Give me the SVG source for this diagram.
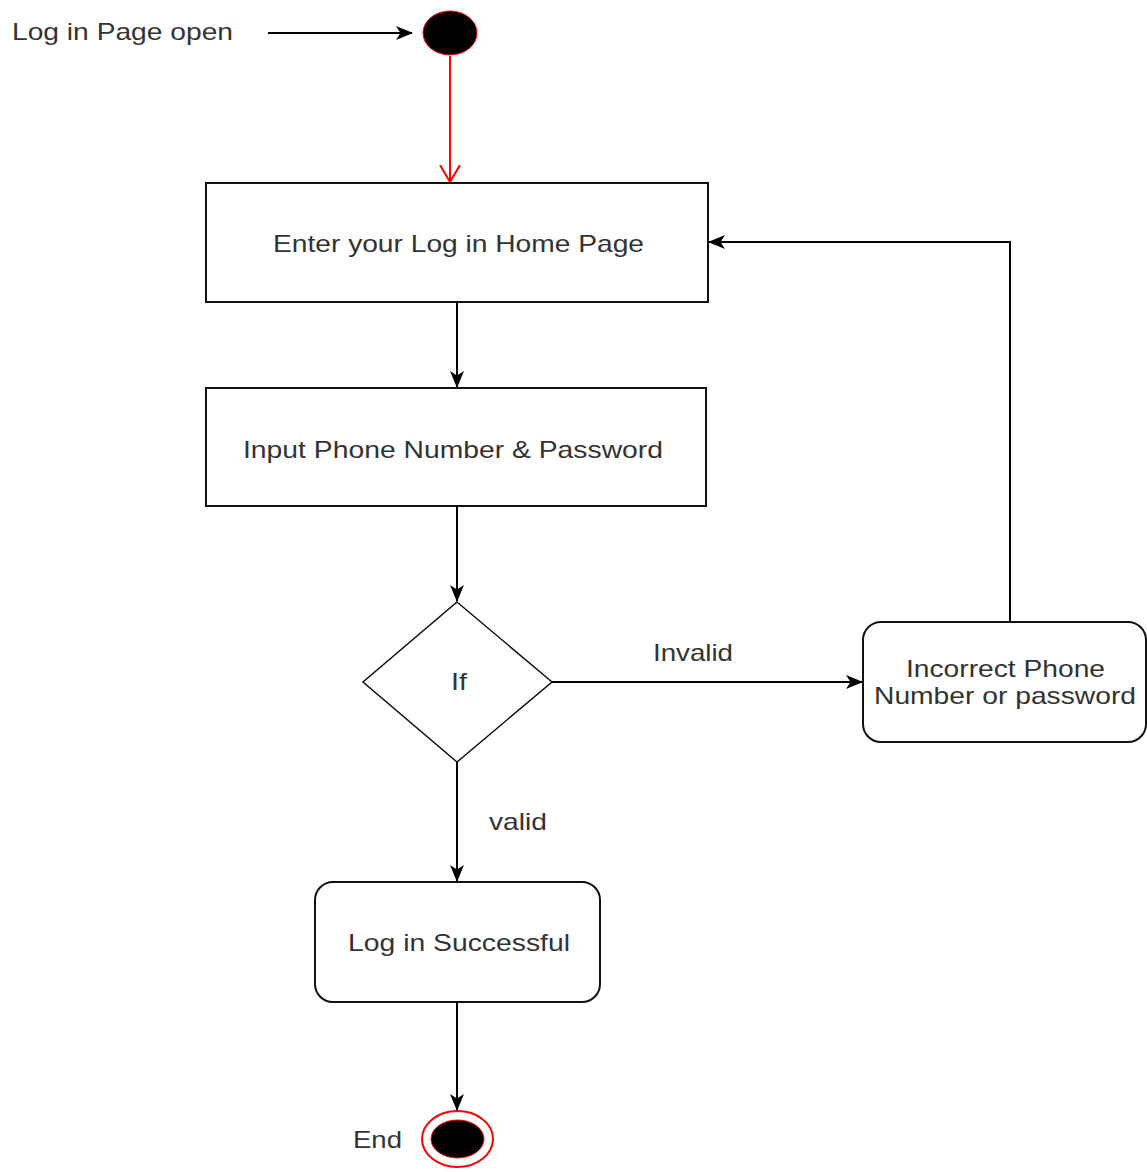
<svg xmlns="http://www.w3.org/2000/svg" width="1147" height="1172" viewBox="0 0 1147 1172">
<defs>
<style>
.t{font-family:"Liberation Sans",Arial,sans-serif;font-size:24px;fill:#333}
.box{fill:#fff;stroke:#111;stroke-width:2}
.ln{fill:none;stroke:#000;stroke-width:2}
</style>
<marker id="ah" markerUnits="userSpaceOnUse" markerWidth="17" markerHeight="15" refX="16" refY="7.5" orient="auto">
<path d="M0,0.5 L17,7.5 L0,14.5 L4.5,7.5 z" fill="#000"/>
</marker>
<marker id="ahr" markerUnits="userSpaceOnUse" markerWidth="18" markerHeight="24" refX="17" refY="12" orient="auto">
<path d="M0,2 L17,12 L0,22" fill="none" stroke="#f00" stroke-width="2"/>
</marker>
</defs>
<rect width="1147" height="1172" fill="#fff"/>
<g id="connectors">
<line class="ln" x1="268" y1="33" x2="412" y2="33" marker-end="url(#ah)"/>
<line x1="450" y1="56" x2="450" y2="182" stroke="#f00" stroke-width="2" marker-end="url(#ahr)"/>
<line class="ln" x1="457" y1="303" x2="457" y2="387" marker-end="url(#ah)"/>
<line class="ln" x1="457" y1="507" x2="457" y2="601" marker-end="url(#ah)"/>
<line class="ln" x1="552" y1="682" x2="862" y2="682" marker-end="url(#ah)"/>
<polyline class="ln" points="1010,622 1010,242 709,242" marker-end="url(#ah)"/>
<line class="ln" x1="457" y1="762" x2="457" y2="881" marker-end="url(#ah)"/>
<line class="ln" x1="457" y1="1003" x2="457" y2="1110" marker-end="url(#ah)"/>
<text class="t" x="653" y="661" textLength="80" lengthAdjust="spacingAndGlyphs">Invalid</text>
<text class="t" x="489" y="830" textLength="58" lengthAdjust="spacingAndGlyphs">valid</text>
</g>
<g id="start-label">
<text class="t" x="12" y="40" textLength="221" lengthAdjust="spacingAndGlyphs">Log in Page open</text>
</g>
<g id="start">
<ellipse cx="450" cy="33" rx="27" ry="22" fill="#000" stroke="#f00" stroke-width="1"/>
</g>
<g id="enter-home">
<rect class="box" x="206" y="183" width="502" height="119"/>
<text class="t" x="273" y="252" textLength="371" lengthAdjust="spacingAndGlyphs">Enter your Log in Home Page</text>
</g>
<g id="input-phone">
<rect class="box" x="206" y="388" width="500" height="118"/>
<text class="t" x="243" y="458" textLength="420" lengthAdjust="spacingAndGlyphs">Input Phone Number &amp; Password</text>
</g>
<g id="decision">
<polygon points="457,602 552,682 457,762 363,682" fill="#fff" stroke="#111" stroke-width="1.5"/>
<text class="t" x="451" y="690" textLength="16" lengthAdjust="spacingAndGlyphs">If</text>
</g>
<g id="incorrect">
<rect class="box" x="863" y="622" width="283" height="120" rx="18" ry="18"/>
<text class="t" x="906" y="677" textLength="199" lengthAdjust="spacingAndGlyphs">Incorrect Phone</text>
<text class="t" x="874" y="704" textLength="262" lengthAdjust="spacingAndGlyphs">Number or password</text>
</g>
<g id="success">
<rect class="box" x="315" y="882" width="285" height="120" rx="18" ry="18"/>
<text class="t" x="348" y="951" textLength="222" lengthAdjust="spacingAndGlyphs">Log in Successful</text>
</g>
<g id="end">
<ellipse cx="457.5" cy="1139" rx="35.5" ry="28" fill="#fff" stroke="#f00" stroke-width="2"/>
<ellipse cx="457.5" cy="1139" rx="26.5" ry="19" fill="#000" stroke="#f00" stroke-width="1"/>
<text class="t" x="353" y="1148" textLength="49" lengthAdjust="spacingAndGlyphs">End</text>
</g>
</svg>
